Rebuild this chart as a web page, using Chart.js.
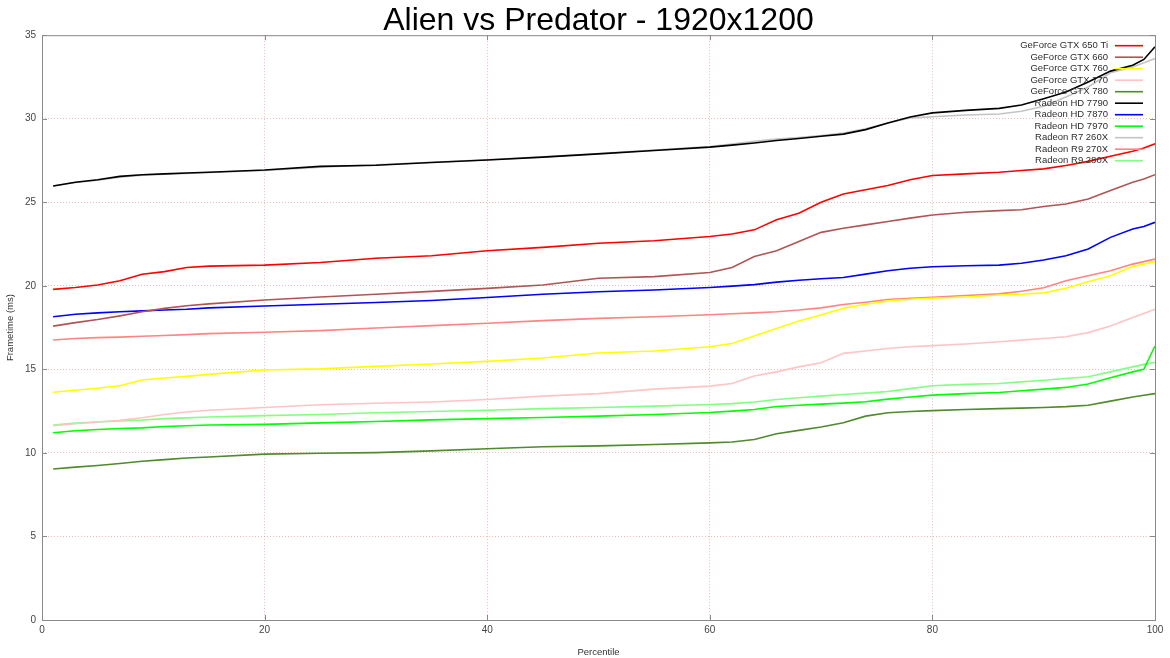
<!DOCTYPE html>
<html>
<head>
<meta charset="utf-8">
<title>Alien vs Predator - 1920x1200</title>
<script src="https://cdn.jsdelivr.net/npm/chart.js@4.4.1/dist/chart.umd.min.js"></script>
<style>
  html, body { margin: 0; padding: 0; background: #fff; }
  #wrap { width: 1170px; height: 658px; }
</style>
</head>
<body>
<div id="wrap"><canvas id="myChart"></canvas></div>
<script>
// percentile positions the values were read at
const percentiles = [1, 3, 5, 7, 9, 11, 13, 15, 20, 25, 30, 35, 40, 45, 50, 55, 60, 62, 64, 66,
  68, 70, 72, 74, 76, 78, 80, 83, 86, 88, 90, 92, 94, 96, 98, 99, 100];

const gtx650ti = [19.79, 19.9, 20.05, 20.3, 20.69, 20.85, 21.1, 21.18, 21.24, 21.4, 21.65, 21.8, 22.1, 22.3, 22.55, 22.7, 22.95, 23.1, 23.35, 23.95,
  24.35, 25.0, 25.5, 25.75, 26.0, 26.35, 26.6, 26.7, 26.8, 26.9, 27.0, 27.2, 27.45, 27.75, 28.05, 28.25, 28.5];
const gtx660 = [17.59, 17.8, 17.98, 18.2, 18.45, 18.65, 18.81, 18.92, 19.15, 19.33, 19.5, 19.67, 19.85, 20.05, 20.45, 20.55, 20.8, 21.1, 21.75, 22.1,
  22.65, 23.2, 23.45, 23.65, 23.85, 24.05, 24.24, 24.4, 24.5, 24.55, 24.75, 24.9, 25.2, 25.7, 26.2, 26.4, 26.65];
const gtx760 = [13.63, 13.75, 13.87, 14.02, 14.36, 14.48, 14.58, 14.7, 14.96, 15.03, 15.18, 15.32, 15.48, 15.68, 15.98, 16.1, 16.35, 16.55, 17.0, 17.45,
  17.9, 18.25, 18.65, 18.9, 19.1, 19.2, 19.26, 19.33, 19.45, 19.5, 19.58, 19.85, 20.25, 20.6, 21.15, 21.3, 21.45];
const gtx770 = [11.63, 11.75, 11.85, 11.95, 12.1, 12.3, 12.45, 12.55, 12.72, 12.88, 12.97, 13.05, 13.2, 13.4, 13.55, 13.82, 14.0, 14.15, 14.6, 14.85,
  15.15, 15.4, 15.96, 16.1, 16.25, 16.35, 16.42, 16.52, 16.65, 16.75, 16.85, 16.95, 17.2, 17.6, 18.1, 18.35, 18.6];
const gtx780 = [9.04, 9.15, 9.25, 9.37, 9.5, 9.6, 9.7, 9.76, 9.93, 9.98, 10.02, 10.12, 10.25, 10.37, 10.42, 10.5, 10.6, 10.65, 10.8, 11.15,
  11.35, 11.55, 11.8, 12.2, 12.4, 12.48, 12.53, 12.6, 12.65, 12.68, 12.72, 12.77, 12.85, 13.1, 13.35, 13.45, 13.55];
const hd7790 = [25.97, 26.2, 26.35, 26.55, 26.65, 26.7, 26.75, 26.8, 26.93, 27.15, 27.22, 27.38, 27.53, 27.7, 27.9, 28.1, 28.3, 28.42, 28.55, 28.7,
  28.82, 28.95, 29.08, 29.35, 29.75, 30.1, 30.35, 30.5, 30.62, 30.82, 31.2, 31.6, 32.2, 32.85, 33.2, 33.55, 34.3];
const hd7870 = [18.15, 18.3, 18.38, 18.45, 18.5, 18.55, 18.6, 18.68, 18.79, 18.9, 19.0, 19.12, 19.3, 19.5, 19.65, 19.75, 19.9, 19.98, 20.07, 20.22,
  20.33, 20.42, 20.5, 20.7, 20.9, 21.05, 21.14, 21.2, 21.24, 21.35, 21.55, 21.8, 22.2, 22.9, 23.4, 23.55, 23.8];
const hd7970 = [11.21, 11.33, 11.4, 11.46, 11.5, 11.58, 11.63, 11.67, 11.71, 11.8, 11.88, 11.98, 12.05, 12.12, 12.2, 12.3, 12.42, 12.5, 12.6, 12.78,
  12.85, 12.92, 12.98, 13.06, 13.22, 13.35, 13.46, 13.55, 13.62, 13.72, 13.82, 13.92, 14.12, 14.5, 14.85, 15.0, 16.4];
const r7260x = [25.97, 26.18, 26.32, 26.5, 26.62, 26.68, 26.73, 26.78, 26.9, 27.1, 27.25, 27.4, 27.55, 27.72, 27.92, 28.12, 28.33, 28.48, 28.65, 28.78,
  28.88, 29.0, 29.15, 29.4, 29.75, 30.05, 30.12, 30.22, 30.28, 30.45, 30.75, 31.3, 31.9, 32.75, 33.1, 33.35, 33.6];
const r9270x = [16.76, 16.85, 16.9, 16.93, 16.98, 17.03, 17.08, 17.14, 17.22, 17.32, 17.48, 17.62, 17.76, 17.92, 18.05, 18.15, 18.27, 18.33, 18.38, 18.45,
  18.55, 18.68, 18.88, 19.02, 19.18, 19.26, 19.32, 19.42, 19.52, 19.68, 19.88, 20.3, 20.6, 20.9, 21.3, 21.45, 21.6];
const r9280x = [11.67, 11.78, 11.85, 11.92, 11.97, 12.05, 12.1, 12.15, 12.23, 12.3, 12.4, 12.48, 12.55, 12.65, 12.72, 12.8, 12.9, 12.95, 13.05, 13.2,
  13.3, 13.4, 13.5, 13.58, 13.68, 13.85, 14.02, 14.1, 14.15, 14.25, 14.35, 14.45, 14.56, 14.85, 15.15, 15.3, 15.42];

const seriesNames = ['GeForce GTX 650 Ti', 'GeForce GTX 660', 'GeForce GTX 760', 'GeForce GTX 770', 'GeForce GTX 780',
  'Radeon HD 7790', 'Radeon HD 7870', 'Radeon HD 7970', 'Radeon R7 260X', 'Radeon R9 270X', 'Radeon R9 280X'];
const seriesValues = [gtx650ti, gtx660, gtx760, gtx770, gtx780, hd7790, hd7870, hd7970, r7260x, r9270x, r9280x];
const seriesColors = ['#ff0000', '#b05454', '#ffff00', '#ffc4c4', '#4f8a2c', '#000000', '#0000ff', '#00ff00',
  '#c4c4c4', '#ff8484', '#84ff84'];

const yTicks = [0, 5, 10, 15, 20, 25, 30, 35];
const xTicks = [0, 20, 40, 60, 80, 100];

const labelFont = "'Liberation Sans', 'DejaVu Sans', sans-serif";

/**
 * Pairs the percentile positions with one series' values
 * @param {Array} values frametimes for one card
 */
function toPoints(values) {
  return percentiles.map(function (p, i) { return { x: p, y: values[i] }; });
}

const datasets = seriesNames.map(function (name, i) {
  return {
    label: name,
    data: toPoints(seriesValues[i]),
    borderColor: seriesColors[i],
    backgroundColor: seriesColors[i],
    borderWidth: 1.6,
    pointRadius: 0,
    tension: 0,
    fill: false
  };
});

// gnuplot style frame: box round the plot with small inward ticks
const framePlugin = {
  id: 'frame',
  afterDraw(chart) {
    const ctx = chart.ctx;
    const a = chart.chartArea;
    const xs = chart.scales.x, ys = chart.scales.y;
    ctx.save();
    ctx.strokeStyle = '#8a8a8a';
    ctx.lineWidth = 1;
    ctx.strokeRect(a.left + 0.5, a.top + 0.5, a.right - a.left, a.bottom - a.top);
    ctx.beginPath();
    xTicks.forEach(function (v) {
      const px = Math.round(xs.getPixelForValue(v)) + 0.5;
      ctx.moveTo(px, a.bottom); ctx.lineTo(px, a.bottom - 5);
      ctx.moveTo(px, a.top); ctx.lineTo(px, a.top + 5);
    });
    yTicks.forEach(function (v) {
      const py = Math.round(ys.getPixelForValue(v)) + 0.5;
      ctx.moveTo(a.left, py); ctx.lineTo(a.left + 5, py);
      ctx.moveTo(a.right, py); ctx.lineTo(a.right - 5, py);
    });
    ctx.stroke();
    ctx.restore();
  }
};

// legend inside the plot, text first then the line sample
const keyPlugin = {
  id: 'key',
  afterDatasetsDraw(chart) {
    const ctx = chart.ctx;
    const a = chart.chartArea;
    ctx.save();
    ctx.font = '9.5px ' + labelFont;
    ctx.textAlign = 'right';
    ctx.textBaseline = 'middle';
    chart.data.datasets.forEach(function (ds, i) {
      const y = a.top + 10.5 + i * 11.5;
      ctx.fillStyle = '#2e2e2e';
      ctx.fillText(ds.label, a.right - 47, y);
      ctx.strokeStyle = ds.borderColor;
      ctx.lineWidth = 1.6;
      ctx.beginPath();
      ctx.moveTo(a.right - 40, y);
      ctx.lineTo(a.right - 12, y);
      ctx.stroke();
    });
    ctx.restore();
  }
};

const config = {
  type: 'line',
  data: { datasets: datasets },
  options: {
    responsive: true,
    maintainAspectRatio: false,
    animation: false,
    layout: { padding: { left: 0, right: 15, top: 0, bottom: 0 } },
    plugins: {
      legend: { display: false },
      tooltip: { enabled: false },
      title: {
        display: true,
        fullSize: false,
        text: 'Alien vs Predator - 1920x1200',
        color: '#000',
        font: { family: labelFont, size: 32, weight: 'normal', lineHeight: 0.85 },
        padding: { top: 8, bottom: 0 }
      }
    },
    scales: {
      x: {
        type: 'linear',
        min: 0,
        max: 100,
        afterFit(scale) { scale.height = 38; },
        afterBuildTicks(scale) { scale.ticks = xTicks.map(function (v) { return { value: v }; }); },
        ticks: { color: '#444', font: { family: labelFont, size: 10 }, padding: 4, maxRotation: 0 },
        grid: { color: 'rgba(225,140,140,0.6)', drawTicks: false, lineWidth: 1 },
        border: { display: false, dash: [1, 2] },
        title: { display: true, text: 'Percentile', color: '#333', font: { family: labelFont, size: 9.5 }, padding: { top: 1, bottom: 0 } }
      },
      y: {
        min: 0,
        max: 35,
        afterFit(scale) { scale.width = 42; },
        afterBuildTicks(scale) { scale.ticks = yTicks.map(function (v) { return { value: v }; }); },
        ticks: { color: '#444', font: { family: labelFont, size: 10 }, padding: 6 },
        grid: { color: 'rgba(225,140,140,0.6)', drawTicks: false, lineWidth: 1 },
        border: { display: false, dash: [1, 2] },
        title: { display: true, text: 'Frametime (ms)', color: '#333', font: { family: labelFont, size: 9.5 }, padding: { top: 5, bottom: 0 } }
      }
    }
  },
  plugins: [framePlugin, keyPlugin]
};

const myChart = new Chart(document.getElementById('myChart'), config);
</script>
</body>
</html>
